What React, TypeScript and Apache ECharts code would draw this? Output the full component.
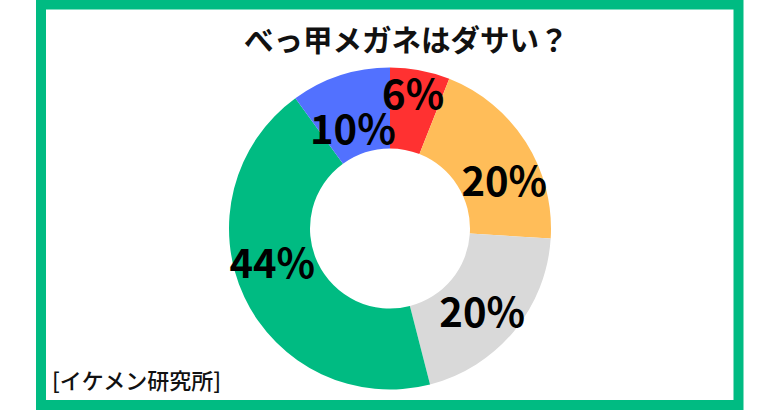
import React, { useRef, useEffect } from 'react'
import * as echarts from 'echarts'

// データ
const categories = ['ダサい', 'ややダサい', 'どちらともいえない', 'ダサくない', 'おしゃれ']
const values = [6, 20, 20, 44, 10]
const colors = ['#FF3131', '#FFBD59', '#D9D9D9', '#00BB82', '#5271FF']
const titleText = 'べっ甲メガネはダサい？'
const sourceText = '[イケメン研究所]'

// ラベルの微調整（元画像の配置に合わせる）
const labelShift = [
  [0, -15],
  [10, 17],
  [-3, 3],
  [-6, -20],
  [1, 16],
]

const App: React.FC = () => {
  const chartRef = useRef<HTMLDivElement>(null)

  useEffect(() => {
    document.body.style.margin = '0'
    if (!chartRef.current) return
    const chart = echarts.init(chartRef.current, undefined, { renderer: 'svg' })

    const option = {
      animation: false,
      backgroundColor: '#ffffff',
      title: {
        text: titleText,
        left: 244,
        top: 23,
        padding: 0,
        textStyle: {
          fontFamily: 'Noto Sans CJK JP',
          fontSize: 29.5,
          fontWeight: 'bold',
          color: '#111111',
        },
      },
      graphic: [
        {
          type: 'rect',
          shape: { x: 41, y: 4.5, width: 697.5, height: 400.5 },
          style: { fill: 'none', stroke: '#00BB82', lineWidth: 10 },
          z: 10,
        },
        {
          type: 'text',
          x: 52,
          y: 379,
          style: {
            text: sourceText,
            fontFamily: 'Noto Sans CJK JP',
            fontSize: 22,
            fontWeight: 500,
            fill: '#111111',
            verticalAlign: 'middle',
          },
        },
      ],
      series: [
        {
          type: 'pie',
          center: [390, 228.5],
          radius: [80, 161],
          startAngle: 90,
          clockwise: true,
          avoidLabelOverlap: false,
          itemStyle: { borderWidth: 0 },
          label: {
            show: true,
            position: 'inside',
            formatter: '{c}%',
            fontFamily: 'Noto Sans CJK JP',
            fontSize: 40,
            fontWeight: 'bold',
            color: '#000000',
          },
          labelLine: { show: false },
          emphasis: { disabled: true },
          labelLayout: (params: any) => ({
            dx: labelShift[params.dataIndex][0],
            dy: labelShift[params.dataIndex][1],
          }),
          data: categories.map((name, i) => ({
            name,
            value: values[i],
            itemStyle: { color: colors[i] },
          })),
        },
      ],
    }

    chart.setOption(option)

    return () => {
      chart.dispose()
    }
  }, [])

  return <div ref={chartRef} style={{ width: '780px', height: '410px' }} />
}

export default App
